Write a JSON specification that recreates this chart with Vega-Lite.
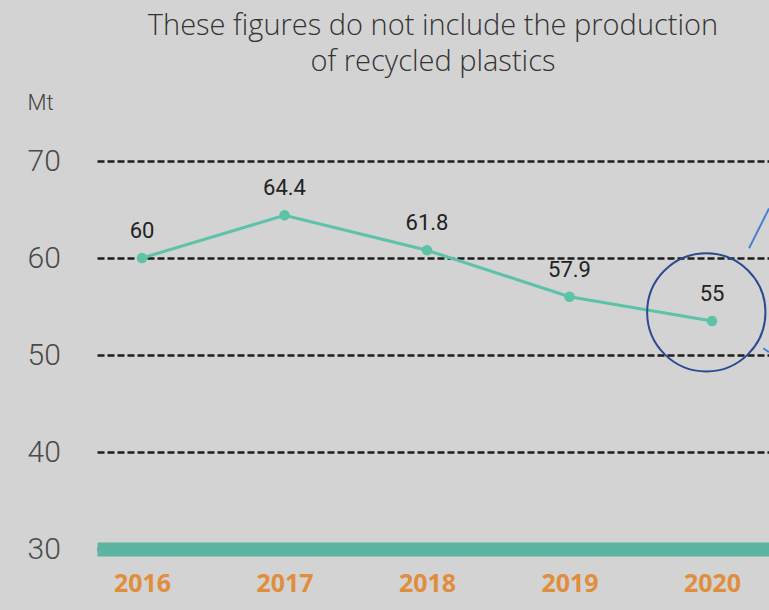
{
  "$schema": "https://vega.github.io/schema/vega-lite/v6.json",
  "width": 672,
  "height": 388,
  "autosize": "none",
  "padding": {"left": 97, "top": 161, "right": 0, "bottom": 61},
  "background": "#d3d3d3",
  "title": {
    "text": ["These figures do not include the production", "of recycled plastics"],
    "anchor": "middle",
    "font": "Open Sans",
    "fontWeight": 300,
    "fontSize": 29,
    "color": "#333333",
    "lineHeight": 36,
    "offset": 14
  },
  "config": {
    "view": {"stroke": null},
    "axis": {"labelFont": "Roboto", "titleFont": "Roboto"}
  },
  "datasets": {
    "series": [
      {"year": 2016, "mt": 60.0, "label": "60"},
      {"year": 2017, "mt": 64.4, "label": "64.4"},
      {"year": 2018, "mt": 60.8, "label": "61.8"},
      {"year": 2019, "mt": 56.0, "label": "57.9"},
      {"year": 2020, "mt": 53.5, "label": "55"}
    ],
    "circle": [{"year": 2019.96, "mt": 54.4}],
    "callouts": [
      {"x1": 2020.26, "y1": 61.0, "x2": 2020.4, "y2": 65.1},
      {"x1": 2020.36, "y1": 50.7, "x2": 2020.4, "y2": 50.3}
    ]
  },
  "layer": [
    {
      "data": {"name": "series"},
      "mark": {"type": "line", "color": "#5cc2a8", "strokeWidth": 3, "point": {"filled": true, "size": 110, "color": "#5cc2a8"}},
      "encoding": {
        "x": {
          "field": "year", "type": "quantitative",
          "scale": {"domain": [2015.684, 2020.4], "nice": false, "zero": false},
          "axis": {
            "values": [2016, 2017, 2018, 2019, 2020], "format": "d", "title": null,
            "grid": false, "ticks": false,
            "domainColor": "#5bb5a2", "domainWidth": 14, "domainCap": "butt",
            "labelColor": "#e08d3c", "labelFontSize": 25, "labelFontWeight": "bold",
            "labelFont": "Noto Sans", "labelPadding": 22
          }
        },
        "y": {
          "field": "mt", "type": "quantitative",
          "scale": {"domain": [30, 70], "nice": false, "zero": false},
          "axis": {
            "values": [30, 40, 50, 60, 70], "title": "Mt",
            "titleAngle": 0, "titleAlign": "left", "titleBaseline": "alphabetic",
            "titleX": -70, "titleY": -52, "titleFontSize": 22, "titleFontWeight": 300, "titleColor": "#444444",
            "domain": false, "ticks": false,
            "labelAlign": "left", "labelPadding": 70, "labelFontSize": 30, "labelFontWeight": 300, "labelColor": "#4a4a4a",
            "grid": true, "gridColor": "#1e1e1e", "gridWidth": 2.5, "gridDash": [7, 3], "gridOpacity": 1
          }
        }
      }
    },
    {
      "data": {"name": "series"},
      "mark": {"type": "text", "dy": -27, "fontSize": 22, "font": "Roboto", "color": "#222222", "baseline": "middle"},
      "encoding": {
        "x": {"field": "year", "type": "quantitative"},
        "y": {"field": "mt", "type": "quantitative"},
        "text": {"field": "label"}
      }
    },
    {
      "data": {"name": "circle"},
      "mark": {"type": "point", "shape": "circle", "size": 14000, "filled": false, "stroke": "#2b4a92", "strokeWidth": 2, "opacity": 1},
      "encoding": {
        "x": {"field": "year", "type": "quantitative"},
        "y": {"field": "mt", "type": "quantitative"}
      }
    },
    {
      "data": {"name": "callouts"},
      "mark": {"type": "rule", "color": "#4a7fd6", "strokeWidth": 2, "clip": true},
      "encoding": {
        "x": {"field": "x1", "type": "quantitative"},
        "y": {"field": "y1", "type": "quantitative"},
        "x2": {"field": "x2"},
        "y2": {"field": "y2"}
      }
    }
  ]
}
